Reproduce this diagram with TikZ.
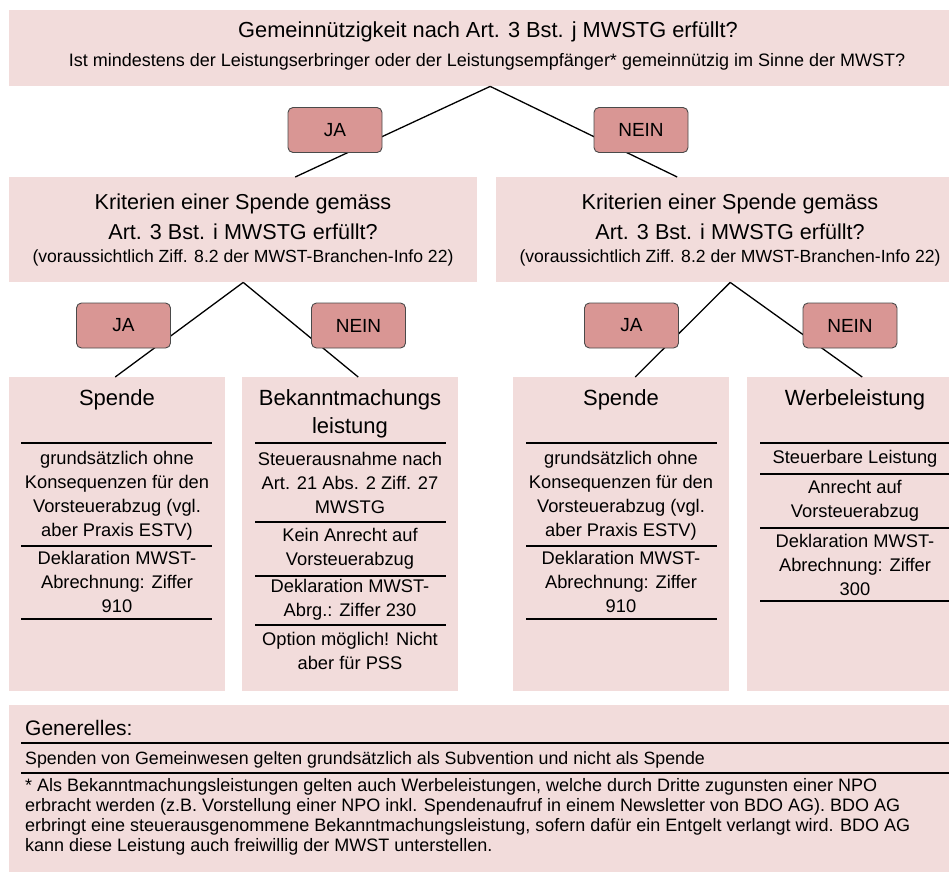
\documentclass[tikz,border=0pt]{standalone}
\usepackage{fontspec}
\setmainfont{Liberation Sans}
\definecolor{panelrosa}{HTML}{F2DCDB}
\definecolor{entscheidrot}{HTML}{D99694}
\definecolor{entscheidrand}{HTML}{4A4A4A}

\begin{document}
\begin{tikzpicture}[x=1pt, y=-1pt,
  panel/.style = {fill=panelrosa, draw=none, inner sep=0, anchor=north west},
  entscheid/.style = {shape=rectangle, rounded corners=5pt,
    draw=entscheidrand, line width=0.9pt, fill=entscheidrot,
    minimum width=94pt, minimum height=45pt, inner sep=0,
    font=\fontsize{19}{22}\selectfont},
  ast/.style = {line width=1.3pt},
  trenn/.style = {line width=2pt},
  kopf/.style = {inner sep=0, align=center, font=\fontsize{22}{28}\selectfont},
  inhalt/.style = {inner sep=0, align=center, font=\fontsize{18.3}{24}\selectfont},
  notiz/.style = {inner sep=0, align=left, anchor=west,
    font=\fontsize{18}{20}\selectfont}]
  \useasboundingbox (0,0) rectangle (949,881);

  % Hintergrundflaechen
  \node[panel, minimum width=962pt, minimum height=76pt] (frage) at (9,10) {};
  \node[panel, minimum width=468pt, minimum height=105pt] (kritL) at (9,177) {};
  \node[panel, minimum width=468pt, minimum height=105pt] (kritR) at (496,177) {};
  \node[panel, minimum width=216pt, minimum height=314pt] (spendeL) at (9,377) {};
  \node[panel, minimum width=216pt, minimum height=314pt] (bekannt) at (242,377) {};
  \node[panel, minimum width=216pt, minimum height=314pt] (spendeR) at (513,377) {};
  \node[panel, minimum width=216pt, minimum height=314pt] (werbung) at (747,377) {};
  \node[panel, minimum width=962pt, minimum height=167pt] (generell) at (9,705) {};

  % Aeste
  \draw[ast] (frage.south) -- ([xshift=52pt]kritL.north);
  \draw[ast] (frage.south) -- ([xshift=-53pt]kritR.north);
  \draw[ast] (kritL.south) -- ([xshift=-2pt]spendeL.north);
  \draw[ast] (kritL.south) -- ([xshift=8pt]bekannt.north);
  \draw[ast] (kritR.south) -- ([xshift=14pt]spendeR.north);
  \draw[ast] (kritR.south) -- ([xshift=7pt]werbung.north);

  % JA / NEIN
  \node[entscheid] (jaOben) at (335,130) {JA};
  \node[entscheid] (neinOben) at (641,130) {NEIN};
  \node[entscheid] (jaL) at (123.5,325.5) {JA};
  \node[entscheid] (neinL) at (358.5,325.5) {NEIN};
  \node[entscheid] (jaR) at (631.5,325.5) {JA};
  \node[entscheid] (neinR) at (850,325.5) {NEIN};

  % Fragen
  \node[inner sep=0, font=\fontsize{21.8}{24}\selectfont] (frageTitel) at (488,32)
    {Gemeinnützigkeit nach Art. 3 Bst. j MWSTG erfüllt?};
  \node[inner sep=0, font=\fontsize{18}{20}\selectfont] (frageZusatz) at (487,62)
    {Ist mindestens der Leistungserbringer oder der Leistungsempfänger* gemeinnützig im Sinne der MWST?};
  \foreach \name/\x in {kritLtext/243, kritRtext/730} {
    \node[inner sep=0, align=center, font=\fontsize{21.6}{30}\selectfont] (\name) at (\x,217)
      {Kriterien einer Spende gemäss\\Art. 3 Bst. i MWSTG erfüllt?};
    \node[inner sep=0, font=\fontsize{17.6}{20}\selectfont] (\name Zusatz) at (\x,258)
      {(voraussichtlich Ziff. 8.2 der MWST-Branchen-Info 22)};
  }

  % Spende (links und rechts)
  \foreach \name/\x in {spL/117, spR/621} {
    \node[kopf] (\name Kopf) at (\x,400) {Spende};
    \node[inhalt] (\name Eins) at (\x,495.5)
      {grundsätzlich ohne\\Konsequenzen für den\\Vorsteuerabzug (vgl.\\aber Praxis ESTV)};
    \node[inhalt] (\name Zwei) at (\x,582) {Deklaration MWST-\\Abrechnung: Ziffer\\910};
  }
  \foreach \y in {443,546,619} {
    \draw[trenn] (21,\y) -- (212,\y);
    \draw[trenn] (526,\y) -- (717,\y);
  }

  % Bekanntmachungsleistung
  \node[kopf] (bekKopf) at (350,414) {Bekanntmachungs\\leistung};
  \node[inhalt] (bekEins) at (350,483) {Steuerausnahme nach\\Art. 21 Abs. 2 Ziff. 27\\MWSTG};
  \node[inhalt] (bekZwei) at (350,549) {Kein Anrecht auf\\Vorsteuerabzug};
  \node[inhalt] (bekDrei) at (350,600) {Deklaration MWST-\\Abrg.: Ziffer 230};
  \node[inhalt] (bekVier) at (350,651) {Option möglich! Nicht\\aber für PSS};
  \foreach \y in {443,522,576,625}
    \draw[trenn] (255,\y) -- (446,\y);

  % Werbeleistung
  \node[kopf] (werbKopf) at (855,400) {Werbeleistung};
  \node[inhalt] (werbEins) at (855,459) {Steuerbare Leistung};
  \node[inhalt] (werbZwei) at (855,500.5) {Anrecht auf\\Vorsteuerabzug};
  \node[inhalt] (werbDrei) at (855,564.5) {Deklaration MWST-\\Abrechnung: Ziffer\\300};
  \foreach \y in {443,474,528,601}
    \draw[trenn] (760,\y) -- (951,\y);

  % Generelles
  \node[notiz, font=\fontsize{21}{24}\selectfont] (genKopf) at (25,728) {Generelles:};
  \node[notiz, font=\fontsize{17.8}{20}\selectfont] (genSubv) at (25,760)
    {Spenden von Gemeinwesen gelten grundsätzlich als Subvention und nicht als Spende};
  \node[notiz] (genStern) at (25,817)
    {* Als Bekanntmachungsleistungen gelten auch Werbeleistungen, welche durch Dritte zugunsten einer NPO\\
     erbracht werden (z.B. Vorstellung einer NPO inkl. Spendenaufruf in einem Newsletter von BDO AG). BDO AG\\
     erbringt eine steuerausgenommene Bekanntmachungsleistung, sofern dafür ein Entgelt verlangt wird. BDO AG\\
     kann diese Leistung auch freiwillig der MWST unterstellen.};
  \foreach \y in {743,773}
    \draw[trenn] (21,\y) -- (971,\y);
\end{tikzpicture}
\end{document}
